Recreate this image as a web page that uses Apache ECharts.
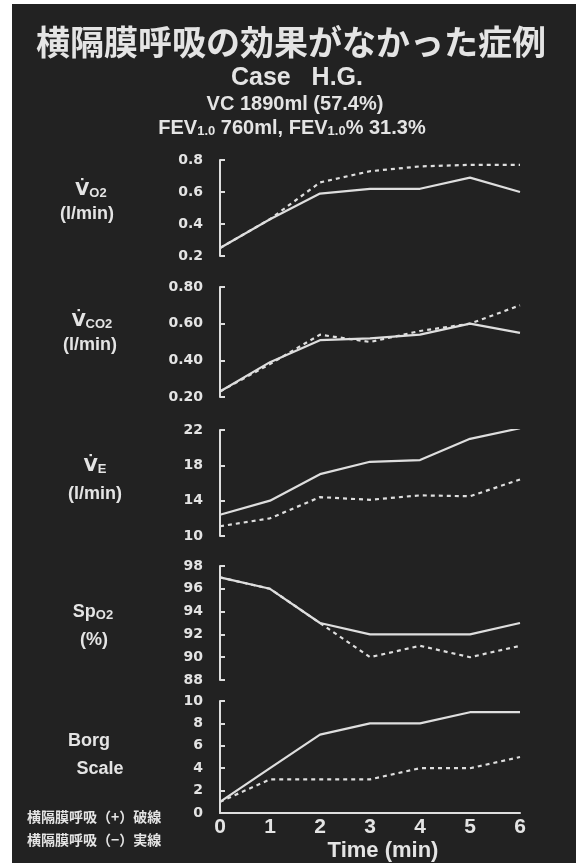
<!DOCTYPE html>
<html><head><meta charset="utf-8">
<script src="https://cdn.jsdelivr.net/npm/echarts@6/dist/echarts.min.js"></script>
<style>html,body{margin:0;padding:0;background:#fff;}#c{width:576px;height:865px;}</style>
</head><body><div id="c"></div>
<script>
// ---- data ----
const times = [0, 1, 2, 3, 4, 5, 6];
const xTicks = ['0', '1', '2', '3', '4', '5', '6'];
const seriesNames = ['横隔膜呼吸（+）破線', '横隔膜呼吸（−）実線'];

const vo2Ticks = [0.2, 0.4, 0.6, 0.8];
const vo2Solid = [0.25, 0.43, 0.59, 0.62, 0.62, 0.69, 0.60];
const vo2Dashed = [0.25, 0.43, 0.66, 0.73, 0.76, 0.77, 0.77];

const vco2Ticks = [0.20, 0.40, 0.60, 0.80];
const vco2Solid = [0.23, 0.39, 0.51, 0.52, 0.54, 0.60, 0.55];
const vco2Dashed = [0.23, 0.38, 0.54, 0.50, 0.56, 0.60, 0.70];

const veTicks = [10, 14, 18, 22];
const veSolid = [12.4, 14.0, 17.0, 18.4, 18.6, 21.0, 22.2];
const veDashed = [11.1, 12.0, 14.4, 14.1, 14.6, 14.5, 16.4];

const spo2Ticks = [88, 90, 92, 94, 96, 98];
const spo2Solid = [97, 96, 93, 92, 92, 92, 93];
const spo2Dashed = [97, 96, 93, 90, 91, 90, 91];

const borgTicks = [0, 2, 4, 6, 8, 10];
const borgSolid = [1, 4, 7, 8, 8, 9, 9];
const borgDashed = [1, 3, 3, 3, 4, 4, 5];

// ---- layout ----
const FG = '#e4e4e4';
const LINE = '#dedede';
const SANS = '"Liberation Sans", Arial, sans-serif';
const DV = '"DejaVu Sans", sans-serif';
const CJK = '"Noto Sans CJK JP", sans-serif';

const panels = [
  { ticks: vo2Ticks, dec: 1, solid: vo2Solid, dashed: vo2Dashed, top: 160, height: 96 },
  { ticks: vco2Ticks, dec: 2, solid: vco2Solid, dashed: vco2Dashed, top: 287, height: 110 },
  { ticks: veTicks, dec: 0, solid: veSolid, dashed: veDashed, top: 430, height: 106 },
  { ticks: spo2Ticks, dec: 0, solid: spo2Solid, dashed: spo2Dashed, top: 566, height: 114 },
  { ticks: borgTicks, dec: 0, solid: borgSolid, dashed: borgDashed, top: 701, height: 112 }
];

const grids = [], xAxes = [], yAxes = [], series = [];
panels.forEach((p, i) => {
  const last = i === panels.length - 1;
  grids.push({ left: 220, width: 300, top: p.top, height: p.height });
  xAxes.push({
    gridIndex: i, type: 'value', min: 0, max: 6, interval: 1,
    show: last,
    axisLine: { show: last, onZero: false, lineStyle: { color: LINE, width: 2 } },
    axisTick: { show: false },
    splitLine: { show: false },
    axisLabel: {
      show: last, color: FG, fontSize: 21, fontWeight: 'bold', fontFamily: SANS, margin: 4,
      formatter: v => xTicks[times.indexOf(v)]
    }
  });
  yAxes.push({
    gridIndex: i, type: 'value',
    min: p.ticks[0], max: p.ticks[p.ticks.length - 1],
    interval: +(p.ticks[1] - p.ticks[0]).toFixed(2),
    axisLine: { show: true, onZero: false, lineStyle: { color: LINE, width: 2 } },
    axisTick: { show: true, inside: true, length: 5, lineStyle: { color: LINE, width: 2 } },
    splitLine: { show: false },
    axisLabel: {
      color: FG, fontSize: 14, fontWeight: 'bold', fontFamily: DV, margin: 17,
      formatter: v => v.toFixed(p.dec)
    }
  });
  series.push({
    name: seriesNames[0], type: 'line', xAxisIndex: i, yAxisIndex: i,
    data: times.map((t, k) => [t, p.dashed[k]]),
    symbol: 'none', lineStyle: { color: LINE, width: 2.2, type: [4, 4] }, z: 3
  });
  series.push({
    name: seriesNames[1], type: 'line', xAxisIndex: i, yAxisIndex: i,
    data: times.map((t, k) => [t, p.solid[k]]),
    symbol: 'none', lineStyle: { color: LINE, width: 2.2, type: 'solid' }, z: 4
  });
});

function txt(x, y, text, font, align, rich) {
  const st = { text: text, x: 0, y: 0, fill: FG, font: font,
    textAlign: align || 'center', textVerticalAlign: 'middle',
    align: align || 'center', verticalAlign: 'middle' };
  if (rich) st.rich = rich;
  return { type: 'text', x: x, y: y, z: 10, style: st };
}
const nameRich = {
  v: { fontSize: 18, fontWeight: 'bold', fontFamily: DV, fill: FG, color: FG },
  n: { fontSize: 18, fontWeight: 'bold', fontFamily: SANS, fill: FG, color: FG },
  s: { fontSize: 13, fontWeight: 'bold', fontFamily: SANS, fill: FG, color: FG, verticalAlign: 'bottom', padding: [6, 0, 0, 0] }
};
const subRich = {
  m: { fontSize: 20, fontWeight: 'bold', fontFamily: SANS, fill: FG, color: FG },
  s: { fontSize: 13, fontWeight: 'bold', fontFamily: SANS, fill: FG, color: FG, verticalAlign: 'bottom', padding: [6, 0, 0, 0] }
};
const F18 = 'bold 18px ' + SANS;

const graphics = [
  { type: 'rect', shape: { x: 12, y: 4, width: 564, height: 859 }, style: { fill: '#222222' }, z: -100, silent: true },
  txt(291, 42, '横隔膜呼吸の効果がなかった症例', 'bold 34px ' + CJK),
  txt(297, 78, 'Case   H.G.', 'bold 25px ' + SANS),
  txt(295, 104, 'VC 1890ml (57.4%)', 'bold 20px ' + SANS),
  txt(292, 128, '{m|FEV}{s|1.0}{m| 760ml, FEV}{s|1.0}{m|% 31.3%}', 'bold 20px ' + SANS, 'center', subRich),
  // axis names
  txt(91, 190, '{v|V̇}{s|O2}', F18, 'center', nameRich),
  txt(87, 214, '(l/min)', F18),
  txt(92, 321, '{v|V̇}{s|CO2}', F18, 'center', nameRich),
  txt(90, 345, '(l/min)', F18),
  txt(95, 466, '{v|V̇}{s|E}', F18, 'center', nameRich),
  txt(95, 494, '(l/min)', F18),
  txt(93, 612, '{n|Sp}{s|O2}', F18, 'center', nameRich),
  txt(94, 640, '(%)', F18),
  txt(89, 741, 'Borg', F18),
  txt(100, 769, 'Scale', F18),
  // legend notes
  txt(27, 817, seriesNames[0], 'bold 14px ' + CJK, 'left'),
  txt(27, 840, seriesNames[1], 'bold 14px ' + CJK, 'left'),
  // x axis title
  txt(383, 851, 'Time (min)', 'bold 22px ' + SANS)
];

const chart = echarts.init(document.getElementById('c'), null, { renderer: 'canvas' });
chart.setOption({
  backgroundColor: '#ffffff',
  animation: false,
  grid: grids,
  xAxis: xAxes,
  yAxis: yAxes,
  series: series,
  graphic: graphics
});
</script>
</body></html>
